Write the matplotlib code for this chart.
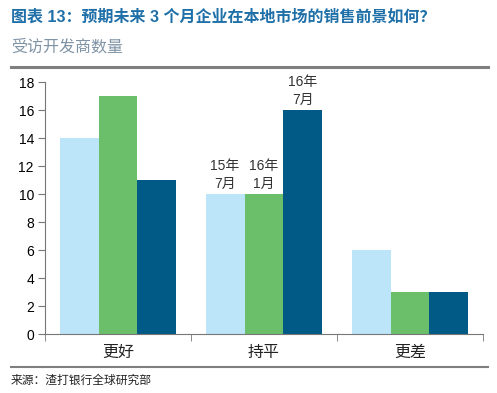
import matplotlib
matplotlib.use("Agg")
import matplotlib.pyplot as plt
from matplotlib.lines import Line2D
import numpy as np

plt.rcParams['font.family'] = ['Liberation Sans', 'Noto Sans CJK SC']

categories = ["更好", "持平", "更差"]
series_names = ["15年\n7月", "16年\n1月", "16年\n7月"]
s_2015_07 = [14, 10, 6]
s_2016_01 = [17, 10, 3]
s_2016_07 = [11, 16, 3]
colors = ["#BDE5FA", "#6CBF6A", "#005A85"]
yticks = [0, 2, 4, 6, 8, 10, 12, 14, 16, 18]

fig = plt.figure(figsize=(4.97, 3.93), dpi=100)
ax = fig.add_axes([45/497, 1-334/393, (483-45)/497, (334-82)/393])

x = np.arange(len(categories))
w = 0.8/3
series = [s_2015_07, s_2016_01, s_2016_07]
for i, (vals, c) in enumerate(zip(series, colors)):
    ax.bar(x + (i-1)*w, vals, width=w, color=c, edgecolor='none')

# annotation labels above 持平 group
for i, vals in enumerate(series):
    ax.text(1 + (i-1)*w, vals[1] + 0.25, series_names[i], ha='center', va='bottom',
            fontsize=10, color='#333333', linespacing=1.3)

ax.set_xlim(-0.5, 2.5)
ax.set_ylim(0, 18)
ax.set_yticks(yticks)
ax.set_yticklabels([str(v) for v in yticks], fontsize=10)
ax.set_xticks(x)
ax.set_xticklabels(categories, fontsize=11.5, color='#222222')
ax.tick_params(axis='x', which='major', length=0, pad=8)
ax.set_xticks([-0.5, 0.5, 1.5, 2.5], minor=True)
ax.tick_params(axis='x', which='minor', length=5, color='#777777', direction='out')
ax.tick_params(axis='y', length=5, color='#777777', direction='out', pad=3)
for s in ['top', 'right']:
    ax.spines[s].set_visible(False)
for s in ['left', 'bottom']:
    ax.spines[s].set_color('#777777')

fig.text(11/497, 1-17/393, "图表 13：预期未来 3 个月企业在本地市场的销售前景如何？",
         fontsize=11.5, fontweight='bold', color='#1F6FA8', va='center', ha='left')
fig.text(11/497, 1-47/393, "受访开发商数量", fontsize=11.5, style='italic',
         color='#7F93A5', va='center', ha='left')
fig.add_artist(Line2D([11/497, 488/497], [1-67/393, 1-67/393], color='#7F7F7F', lw=2.2))
fig.add_artist(Line2D([11/497, 488/497], [1-367/393, 1-367/393], color='#7F7F7F', lw=1.5))
fig.text(11/497, 1-381/393, "来源：渣打银行全球研究部", fontsize=8.5, color='#222222',
         va='center', ha='left')

fig.savefig("out.png", dpi=100)
